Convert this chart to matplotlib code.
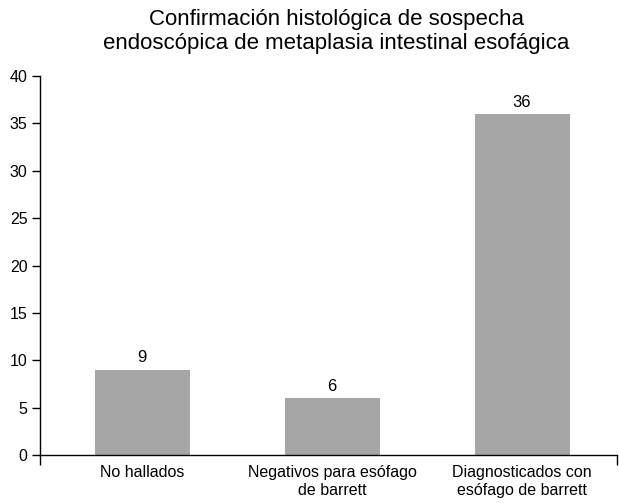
import matplotlib
matplotlib.use("Agg")
import matplotlib.pyplot as plt

categories = ["No hallados", "Negativos para esófago\nde barrett", "Diagnosticados con\nesófago de barrett"]
values = [9, 6, 36]
yticks = [0, 5, 10, 15, 20, 25, 30, 35, 40]
title = "Confirmación histológica de sospecha\nendoscópica de metaplasia intestinal esofágica"

plt.rcParams["font.family"] = ["Liberation Sans", "DejaVu Sans"]

fig = plt.figure(figsize=(6.19, 5.03), dpi=100)
ax = fig.add_axes([40 / 619, 48 / 503, 577 / 619, 379 / 503])

x = list(range(len(categories)))
bars = ax.bar(x, values, width=0.5, color="#a6a6a6")
for xi, v in zip(x, values):
    ax.text(xi, v + 0.45, str(v), ha="center", va="bottom", fontsize=12)

ax.set_xlim(-0.537, 2.5)
ax.set_ylim(0, 40)
ax.set_yticks(yticks)
ax.tick_params(axis="y", direction="out", length=6, width=1, labelsize=11.5, pad=3)

# category labels without tick marks; boundary ticks only at the ends
ax.set_xticks([-0.537, 2.5])
ax.set_xticklabels(["", ""])
ax.tick_params(axis="x", direction="out", length=7, width=1)
for xi, lab in zip(x, categories):
    ax.text(xi, -1.1, lab, ha="center", va="top", fontsize=11.5,
            transform=ax.transData, linespacing=1.2)

ax.spines["top"].set_visible(False)
ax.spines["right"].set_visible(False)
ax.spines["left"].set_linewidth(1)
ax.spines["bottom"].set_linewidth(1)

fig.text(0.543, 1 - 9 / 503, title, ha="center", va="top", fontsize=16, linespacing=1.2)

fig.savefig("out.png", dpi=100)
